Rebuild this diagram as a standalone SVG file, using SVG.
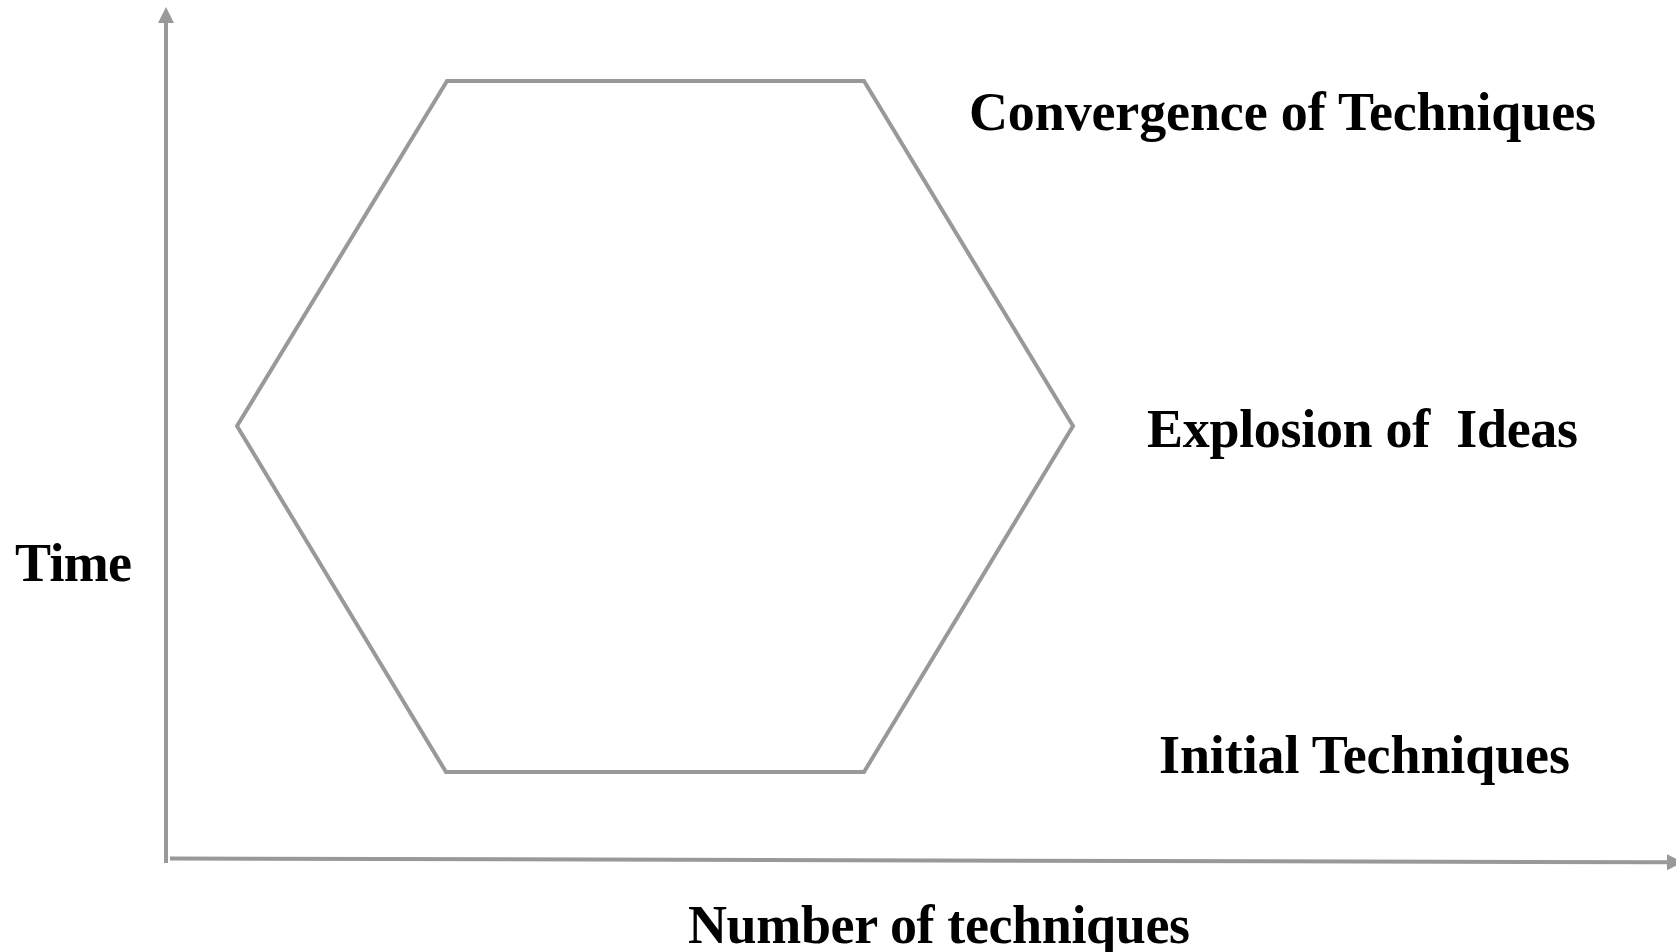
<svg xmlns="http://www.w3.org/2000/svg" width="1676" height="952" viewBox="0 0 1676 952">
  <style>
    .axis { stroke: #999999; stroke-width: 4; fill: none; }
    .shape { stroke: #999999; stroke-width: 4; fill: none; stroke-linejoin: miter; }
    .label { font-family: "Liberation Serif", "Times New Roman", serif; font-weight: bold; font-size: 54px; fill: #000000; }
  </style>
  <defs>
    <marker id="arrow" viewBox="0 0 16 16" refX="0" refY="8" markerWidth="16" markerHeight="16" markerUnits="userSpaceOnUse" orient="auto">
      <path d="M0,0 L16,8 L0,16 Z" fill="#999999"/>
    </marker>
  </defs>
  <rect width="1676" height="952" fill="#ffffff"/>

  <!-- axes -->
  <g id="connectors">
    <line class="axis" x1="166" y1="863" x2="166" y2="23" marker-end="url(#arrow)"/>
    <line class="axis" x1="170" y1="858.5" x2="1667" y2="862.3" marker-end="url(#arrow)"/>
  </g>

  <!-- hexagon of technique phases -->
  <g id="hexagon">
    <polygon class="shape" points="447,81 864,81 1073,426 864,772 446,772 237,426"/>
  </g>

  <g id="label-convergence">
    <text class="label" x="969" y="130" textLength="627" lengthAdjust="spacing">Convergence of Techniques</text>
  </g>
  <g id="label-explosion">
    <text class="label" x="1147" y="447" xml:space="preserve" textLength="431" lengthAdjust="spacing">Explosion of  Ideas</text>
  </g>
  <g id="label-initial">
    <text class="label" x="1159" y="773" textLength="411" lengthAdjust="spacing">Initial Techniques</text>
  </g>
  <g id="label-time">
    <text class="label" x="15" y="581" textLength="117" lengthAdjust="spacing">Time</text>
  </g>
  <g id="label-number">
    <text class="label" x="688" y="943" textLength="502" lengthAdjust="spacing">Number of techniques</text>
  </g>
</svg>
